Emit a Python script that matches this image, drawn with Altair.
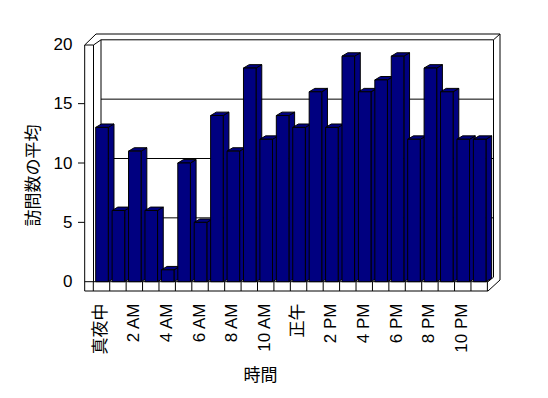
import json
import altair as alt
import pandas as pd

# ---- data ----
hours = list(range(24))
visits = [13, 6, 11, 6, 1, 10, 5, 14, 11, 18, 12, 14, 13, 16, 13, 19, 16, 17, 19, 12, 18, 16, 12, 12]
tick_labels = ["真夜中", "2 AM", "4 AM", "6 AM", "8 AM", "10 AM", "正午", "2 PM", "4 PM", "6 PM", "8 PM", "10 PM"]
y_ticks = [0, 5, 10, 15, 20]
wall_ticks = [5, 10, 15]
grid_vals = [5, 10, 15, 20]

# ---- style / geometry ----
BAR_L, BAR_R = 0.146, 0.913     # bar front face inside its band
DX, DY = 0.347, 0.286           # bar depth (band units / value units)
NAVY = "#000080"
FONT = "Liberation Sans, Noto Sans CJK JP"
W, H = 420, 262

xs = alt.Scale(domain=[-0.5664, 25.012], nice=False, zero=False)
ys = alt.Scale(domain=[-0.8677, 21.205], nice=False, zero=False)

bars = pd.DataFrame({"hour": hours, "visits": visits})
front = bars.assign(x=bars.hour + BAR_L, x2=bars.hour + BAR_R, y=bars.visits, y2=0.0)
top = pd.concat([
    bars.assign(x=bars.hour + BAR_L, x2=bars.hour + BAR_R, y=bars.visits.astype(float), e=0),
    bars.assign(x=bars.hour + BAR_L + DX, x2=bars.hour + BAR_R + DX, y=bars.visits + DY, e=1),
], ignore_index=True)
side = pd.concat([
    bars.assign(x=bars.hour + BAR_R, y=bars.visits.astype(float), y2=0.0, e=0),
    bars.assign(x=bars.hour + BAR_R + DX, y=bars.visits + DY, y2=DY, e=1),
], ignore_index=True)

one = pd.DataFrame({"a": [0]})


def seg(x1, y1, x2, y2):
    return alt.Chart(one).mark_rule(color="black", strokeWidth=1).encode(
        x=alt.value(x1), y=alt.value(y1), x2=alt.value(x2), y2=alt.value(y2))


# back wall gridlines (shifted back in depth)
grid = alt.Chart(pd.DataFrame({"v": grid_vals})).mark_rule(
    color="black", strokeWidth=1, yOffset=-4.5).encode(
    y=alt.Y("v:Q", scale=ys, axis=None), x=alt.value(17), x2=alt.value(409.5))

frame = [
    seg(17, 9.8, 17, 247.2),        # back wall left edge
    seg(409.5, 9.8, 409.5, 247.2),  # back wall right edge
    seg(12, 4, 416, 4),             # outer top edge
    seg(409.5, 9.8, 416, 4),
    seg(416, 4, 416, 250),          # right outer edge
    seg(416, 250, 404, 261),
    seg(404, 251.7, 409.5, 247.2),
    seg(0.7, 15, 0.7, 261),         # left wall outer edge
    seg(9.5, 15, 9.5, 251.7),       # left wall inner edge
    seg(0.7, 15, 9.5, 15),
    seg(0.7, 15, 12, 4),
    seg(9.5, 15, 17, 9.8),
    seg(0.7, 251.7, 404, 251.7),    # floor strip top
    seg(0.7, 261, 404, 261),        # floor strip bottom
]

dividers = alt.Chart(pd.DataFrame({"k": hours + [24]})).mark_rule(
    color="black", strokeWidth=1).encode(
    x=alt.X("k:Q", scale=xs, axis=None), y=alt.value(251.7), y2=alt.value(261))

wall_tick = alt.Chart(pd.DataFrame({"v": wall_ticks})).mark_rule(
    color="black", strokeWidth=1).encode(
    y=alt.Y("v:Q", scale=ys, axis=None), x=alt.value(-6), x2=alt.value(0.7))

side_l = alt.Chart(side).mark_area(
    orient="vertical", fill=NAVY, fillOpacity=1, stroke="black", strokeWidth=1).encode(
    x=alt.X("x:Q", scale=xs, axis=None),
    y=alt.Y("y:Q", scale=ys, axis=None, stack=None),
    y2="y2:Q",
    detail="hour:N")

top_l = alt.Chart(top).mark_area(
    orient="horizontal", fill=NAVY, fillOpacity=1, stroke="black", strokeWidth=1).encode(
    y=alt.Y("y:Q", scale=ys, axis=None),
    x=alt.X("x:Q", scale=xs, axis=None, stack=None),
    x2="x2:Q",
    detail="hour:N")

label_vals = [k + 0.5 - 0.06 for k in range(0, 24, 2)]
label_expr = json.dumps(tick_labels, ensure_ascii=False) + "[round((datum.value - 0.44) / 2)]"

front_l = alt.Chart(front).mark_rect(
    fill=NAVY, stroke="black", strokeWidth=1).encode(
    x=alt.X("x:Q", scale=xs, axis=alt.Axis(
        values=label_vals, labelExpr=label_expr, ticks=False, domain=False, grid=False,
        labelAngle=270, labelPadding=11, labelFontSize=17, labelFont=FONT,
        labelColor="black", labelOverlap=False, labelFlush=False,
        title="時間", titleFont=FONT, titleFontSize=17, titleFontWeight="normal",
        titleColor="black", titleX=176, titleY=83, titleAlign="center",
        titleBaseline="middle")),
    x2="x2:Q",
    y=alt.Y("y:Q", scale=ys, axis=alt.Axis(
        values=y_ticks, ticks=False, domain=False, grid=False,
        labelPadding=12, labelFontSize=17, labelFont=FONT, labelColor="black",
        labelFlush=False, labelOverlap=False,
        title="訪問数の平均", titleFont=FONT, titleFontSize=17,
        titleFontWeight="normal", titleColor="black", titleAngle=270,
        titleX=-51, titleY=145, titleAlign="center", titleBaseline="middle")),
    y2="y2:Q")

chart = alt.layer(grid, *frame, dividers, wall_tick, side_l, top_l, front_l).resolve_axis(
    x="independent", y="independent"
).properties(
    width=W, height=H,
    autosize=alt.AutoSizeParams(type="none"),
    padding={"left": 84, "top": 30, "right": 44, "bottom": 106},
    background="white",
).configure_view(strokeWidth=0)

chart.save("out.html", embed_options={"renderer": "svg", "actions": False})
